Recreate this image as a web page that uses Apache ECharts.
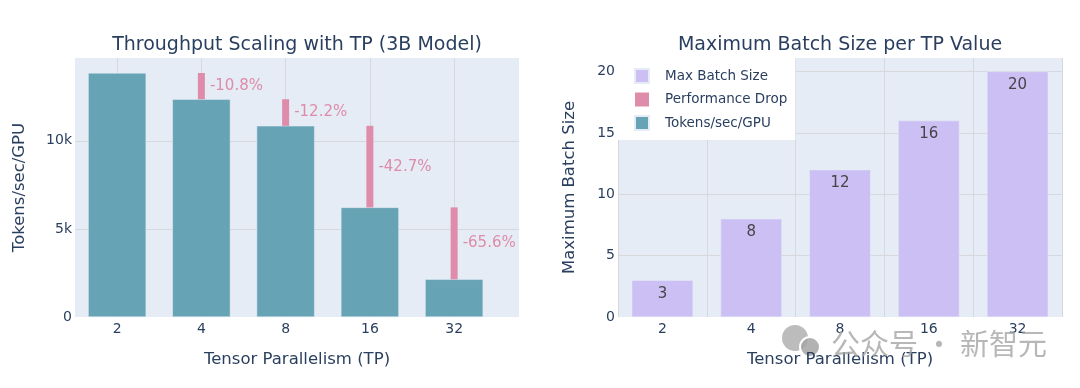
<!DOCTYPE html>
<html>
<head>
<meta charset="utf-8">
<script src="https://cdn.jsdelivr.net/npm/echarts@6/dist/echarts.min.js"></script>
<style>
  html, body { margin: 0; padding: 0; background: #ffffff; }
  #chart { width: 1080px; height: 388px; }
</style>
</head>
<body>
<div id="chart"></div>
<script>
// ---- data ----
const tpCategories = ['2', '4', '8', '16', '32'];
const tokensPerSecPerGpu = [13850, 12360, 10850, 6220, 2140];
const dropLabels = ['', '-10.8%', '-12.2%', '-42.7%', '-65.6%'];
const maxBatchSize = [3, 8, 12, 16, 20];
const leftYTicks = [0, 5000, 10000];
const rightYTicks = [0, 5, 10, 15, 20];

// ---- styles ----
const FONT = 'DejaVu Sans';
const INK = '#2a3f5f';
const TEAL = '#66a3b4';
const PINK = '#de8ca9';
const LAVENDER = '#cbbff4';
const PLOT_BG = '#e5ecf6';
const GRID = '#d6d8dc';

// build chart data from the arrays
const tealData = tokensPerSecPerGpu.map((v, i) => [i, v]);
const dropData = [];
for (let i = 1; i < tokensPerSecPerGpu.length; i++) {
  dropData.push([i, tokensPerSecPerGpu[i], tokensPerSecPerGpu[i - 1]]);
}

const chart = echarts.init(document.getElementById('chart'), null, { renderer: 'canvas' });

const option = {
  backgroundColor: '#ffffff',
  animation: false,
  textStyle: { fontFamily: FONT },
  title: [
    {
      text: 'Throughput Scaling with TP (3B Model)',
      left: 297, top: 36, textAlign: 'center', padding: 0,
      textStyle: { fontFamily: FONT, fontSize: 19, fontWeight: 'normal', color: INK }
    },
    {
      text: 'Maximum Batch Size per TP Value',
      left: 840, top: 36, textAlign: 'center', padding: 0,
      textStyle: { fontFamily: FONT, fontSize: 19, fontWeight: 'normal', color: INK }
    }
  ],
  legend: {
    orient: 'vertical',
    left: 618, top: 58,
    backgroundColor: '#ffffff',
    padding: [10, 8, 9, 16],
    itemWidth: 14, itemHeight: 14, itemGap: 8.5,
    textStyle: { fontFamily: FONT, fontSize: 13.5, color: INK, padding: [0, 0, 0, 11] },
    data: [
      { name: 'Max Batch Size', icon: 'rect' },
      { name: 'Performance Drop', icon: 'rect' },
      { name: 'Tokens/sec/GPU', icon: 'rect' }
    ],
    selectedMode: false,
    z: 10
  },
  grid: [
    { left: 75, top: 58, width: 444, height: 259, show: true, backgroundColor: PLOT_BG, borderWidth: 0 },
    { left: 618, top: 58, width: 444, height: 259, show: true, backgroundColor: PLOT_BG, borderWidth: 0 }
  ],
  xAxis: [
    {
      type: 'value', gridIndex: 0,
      min: -0.5, max: 4.77, minInterval: 1, maxInterval: 1,
      name: 'Tensor Parallelism (TP)', nameLocation: 'middle', nameGap: 34,
      nameTextStyle: { fontFamily: FONT, fontSize: 16.5, color: INK },
      axisLine: { show: false }, axisTick: { show: false },
      axisLabel: {
        fontFamily: FONT, fontSize: 14, color: INK, margin: 5,
        showMinLabel: false, showMaxLabel: false,
        formatter: v => (Number.isInteger(v) && v >= 0 && v < tpCategories.length) ? tpCategories[Math.abs(v)] : ''
      },
      splitLine: { show: true, showMinLine: false, showMaxLine: false, lineStyle: { color: GRID, width: 1 } }
    },
    {
      type: 'category', gridIndex: 1, data: tpCategories,
      name: 'Tensor Parallelism (TP)', nameLocation: 'middle', nameGap: 34,
      nameTextStyle: { fontFamily: FONT, fontSize: 16.5, color: INK },
      axisLine: { show: false }, axisTick: { show: false },
      axisLabel: { fontFamily: FONT, fontSize: 14, color: INK, margin: 5 },
      splitLine: { show: true, lineStyle: { color: GRID, width: 1 } }
    }
  ],
  yAxis: [
    {
      type: 'value', gridIndex: 0, min: 0, max: 14700, interval: 5000,
      name: 'Tokens/sec/GPU', nameLocation: 'middle', nameGap: 47,
      nameTextStyle: { fontFamily: FONT, fontSize: 16.5, color: INK },
      axisLine: { show: false }, axisTick: { show: false },
      axisLabel: {
        fontFamily: FONT, fontSize: 14, color: INK, margin: 3, showMaxLabel: false,
        formatter: v => leftYTicks.includes(v) ? (v === 0 ? '0' : (v / 1000) + 'k') : ''
      },
      splitLine: { show: true, showMinLine: false, showMaxLine: false, lineStyle: { color: GRID, width: 1 } }
    },
    {
      type: 'value', gridIndex: 1, min: 0, max: 21.1, interval: 5,
      name: 'Maximum Batch Size', nameLocation: 'middle', nameGap: 40,
      nameTextStyle: { fontFamily: FONT, fontSize: 16.5, color: INK },
      axisLine: { show: false }, axisTick: { show: false },
      axisLabel: {
        fontFamily: FONT, fontSize: 14, color: INK, margin: 3, showMaxLabel: false,
        formatter: v => rightYTicks.includes(v) ? String(v) : ''
      },
      splitLine: { show: true, showMinLine: false, showMaxLine: false, lineStyle: { color: GRID, width: 1 } }
    }
  ],
  series: [
    {
      name: 'Tokens/sec/GPU', type: 'bar', xAxisIndex: 0, yAxisIndex: 0,
      data: tealData, barWidth: 58,
      itemStyle: { color: TEAL, borderColor: PLOT_BG, borderWidth: 0.5 },
      z: 2
    },
    {
      name: 'Performance Drop', type: 'custom', xAxisIndex: 0, yAxisIndex: 0,
      data: dropData,
      encode: { x: 0, y: [1, 2] },
      itemStyle: { color: PINK },
      z: 3,
      renderItem: function (params, api) {
        const lo = api.coord([api.value(0), api.value(1)]);
        const hi = api.coord([api.value(0), api.value(2)]);
        const w = 7;
        const label = dropLabels[api.value(0)];
        return {
          type: 'group',
          children: [
            {
              type: 'rect',
              shape: { x: lo[0] - w / 2, y: hi[1], width: w, height: lo[1] - hi[1] },
              style: { fill: PINK }
            },
            {
              type: 'text',
              x: lo[0] + w / 2 + 5,
              y: (lo[1] + hi[1]) / 2,
              style: {
                text: label, fill: PINK, font: '15px "DejaVu Sans"',
                align: 'left', verticalAlign: 'middle'
              }
            }
          ]
        };
      }
    },
    {
      name: 'Max Batch Size', type: 'bar', xAxisIndex: 1, yAxisIndex: 1,
      data: maxBatchSize, barWidth: '69%',
      itemStyle: { color: LAVENDER, borderColor: PLOT_BG, borderWidth: 0.5 },
      label: {
        show: true, position: 'insideTop', distance: 6,
        fontFamily: FONT, fontSize: 15, color: '#454545'
      },
      z: 2
    }
  ],
  graphic: [
    {
      type: 'group', left: 782, top: 325, silent: true, z: 100,
      children: [
        { type: 'circle', shape: { cx: 14, cy: 12, r: 13 }, style: { fill: 'rgba(165,165,165,0.75)' } },
        { type: 'circle', shape: { cx: 29, cy: 21, r: 10 }, style: { fill: 'rgba(165,165,165,0.85)', stroke: '#ffffff', lineWidth: 2 } }
      ]
    },
    {
      type: 'text', left: 831, top: 329, silent: true, z: 100,
      style: {
        text: '公众号 · 新智元', fill: 'rgba(165,165,165,0.8)',
        font: '29px "Noto Sans CJK SC"'
      }
    }
  ]
};

chart.setOption(option);
</script>
</body>
</html>
